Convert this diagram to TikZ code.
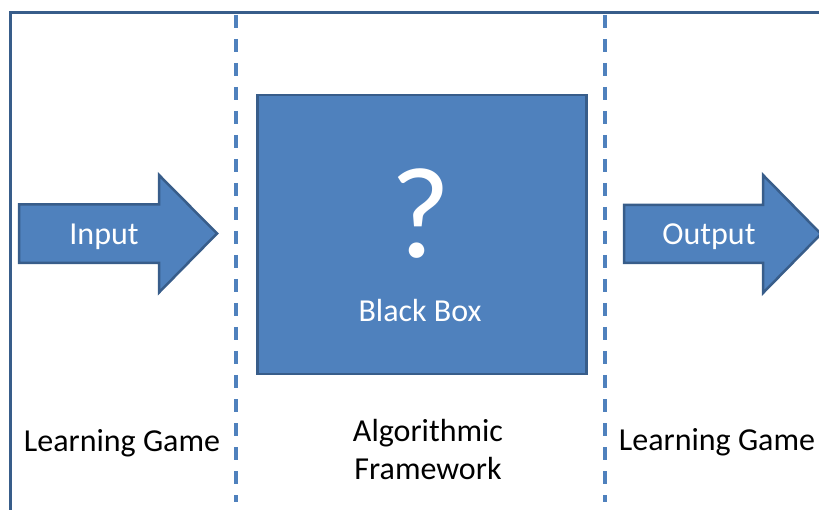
\documentclass[tikz,border=0pt]{standalone}
\usepackage{fontspec}
\setmainfont{Carlito}
\definecolor{boxfill}{HTML}{4F81BD}
\definecolor{boxline}{HTML}{385D8A}
\begin{document}
\begin{tikzpicture}[x=1pt,y=-1pt,
  frameline/.style={draw=boxline,line width=3pt},
  divider/.style={draw=boxfill,line width=3.5pt,dash pattern=on 13pt off 11pt},
  blockshape/.style={fill=boxfill,draw=boxline,line width=2.5pt,line join=miter},
  intext/.style={text=white,font=\fontsize{32}{38}\selectfont,inner sep=0pt},
  caption/.style={text=black,font=\fontsize{32}{38}\selectfont,inner sep=0pt,align=center}]
\clip (0,0) rectangle (819,510);

% outer frame (top and left edges)
\draw[frameline,line join=miter] (10,530) -- (10,12.5) -- (840,12.5);

% section dividers
\draw[divider] (236,15) -- (236,502);
\draw[divider] (605,15) -- (605,502);

% input arrow
\draw[blockshape] (19,204.5) -- (159,204.5) -- (159,175) -- (217,233.5)
  -- (159,292.5) -- (159,263) -- (19,263) -- cycle;
\node[intext,anchor=base] (input) at (104,245) {Input};

% black box
\node[blockshape,minimum width=329pt,minimum height=279pt,inner sep=0pt,anchor=north west]
  (box) at (256,94) {};
\node[text=white,font=\fontsize{130}{130}\selectfont,inner sep=0pt,anchor=base]
  (qmark) at (421,258) {?};
\node[intext,anchor=base] (bbox) at (420,322) {Black Box};

% output arrow
\draw[blockshape] (624,205) -- (763,205) -- (763,175) -- (821,234)
  -- (763,293) -- (763,263) -- (624,263) -- cycle;
\node[intext,anchor=base] (output) at (709,245) {Output};

% section captions
\node[caption,anchor=base] (lgin) at (122,451) {Learning Game};
\node[caption,anchor=base] (algo) at (428,479) {Algorithmic\\Framework};
\node[caption,anchor=base] (lgout) at (717,450) {Learning Game};
\end{tikzpicture}
\end{document}
